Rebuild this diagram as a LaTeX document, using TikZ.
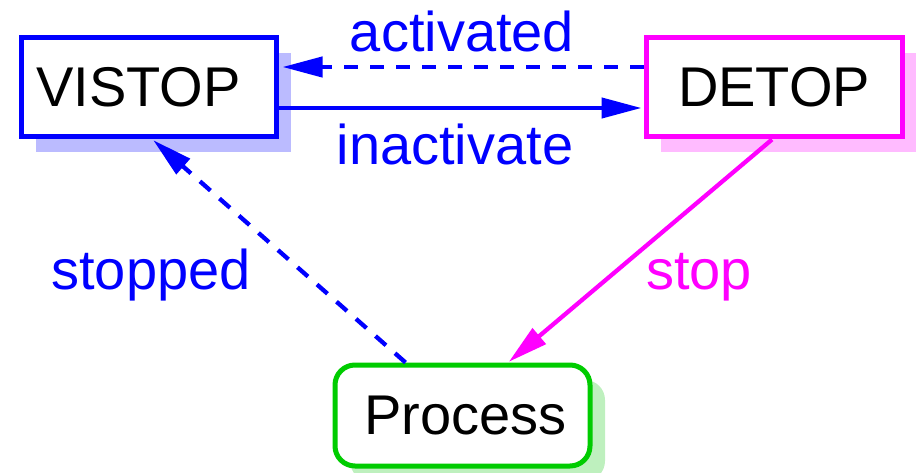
\documentclass[tikz,border=0pt]{standalone}
\usepackage{fontspec}
\setmainfont{Liberation Sans}
\usetikzlibrary{arrows.meta,shadows}
\definecolor{vblue}{RGB}{0,0,255}
\definecolor{vmag}{RGB}{255,0,255}
\definecolor{vgreen}{RGB}{0,204,0}
\definecolor{shblue}{RGB}{187,187,255}
\definecolor{shmag}{RGB}{255,187,255}
\definecolor{shgreen}{RGB}{190,240,190}
\tikzset{
  every node/.style={font=\fontsize{56}{60}\selectfont},
  box/.style={draw, line width=5pt, fill=white, minimum width=255pt,
    minimum height=99pt, inner sep=0pt, text=black},
  shade/.style={drop shadow={shadow xshift=15pt, shadow yshift=-15pt,
    fill=#1, opacity=1}},
  conn/.style={line width=4.3pt, -{Triangle[length=40pt,width=20pt]}},
  dashline/.style={dash pattern=on 14pt off 12pt},
  lbl/.style={anchor=base, inner sep=0pt}
}
\begin{document}
\begin{tikzpicture}[x=1pt,y=-1pt]
  \useasboundingbox (0,0) rectangle (916,473);
  % the three states
  \node[box, draw=vblue, shade=shblue] (vistop) at (148.5,87.5) {VISTOP\kern20pt};
  \node[box, draw=vmag, shade=shmag, minimum width=256pt] (detop) at (774,87.5) {DETOP};
  \node[box, draw=vgreen, shade=shgreen, rounded corners=20pt,
        minimum height=101pt] (proc) at (462.5,415.5) {\kern6pt Process};
  % transitions
  \draw[conn, vblue, dashline, shorten >=4pt]
    ([yshift=20.5pt]detop.west) -- ([yshift=20.5pt]vistop.east);
  \draw[conn, vblue, shorten >=2pt]
    ([yshift=-20.5pt]vistop.east) -- ([yshift=-20.5pt]detop.west);
  \draw[conn, vblue, dashline, shorten >=1pt]
    ([xshift=-57pt]proc.north) -- ([xshift=4pt]vistop.south);
  \draw[conn, vmag, shorten >=1pt]
    ([xshift=-2pt]detop.south) -- ([xshift=45.5pt]proc.north);
  % transition labels
  \node[lbl, text=vblue] (lact) at (462,52) {activated};
  \node[lbl, text=vblue] (linact) at (455,165) {inactivate};
  \node[lbl, text=vblue] (lstopped) at (151,290) {stopped};
  \node[lbl, text=vmag] (lstop) at (699,290) {stop};
\end{tikzpicture}
\end{document}
